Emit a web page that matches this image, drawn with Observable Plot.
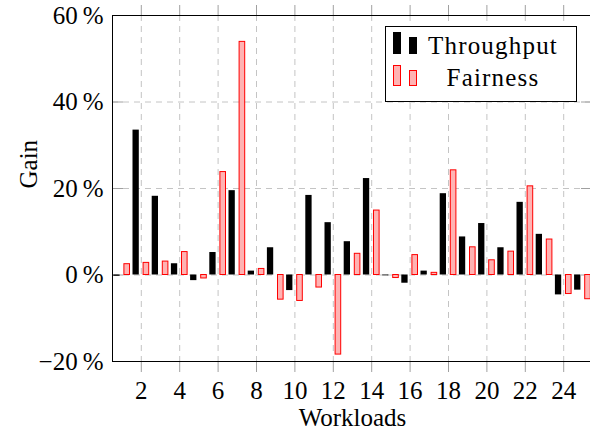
<!DOCTYPE html>
<html>
<head>
<meta charset="utf-8">
<script src="https://cdn.jsdelivr.net/npm/d3@7"></script>
<script src="https://cdn.jsdelivr.net/npm/@observablehq/plot@0.6"></script>
<style>
  html, body { margin: 0; padding: 0; background: #fff; overflow: hidden; }
  #chart { width: 590px; height: 434px; overflow: hidden; }
  #chart svg { max-width: none !important; width: 600px !important; height: 434px !important; }
</style>
</head>
<body>
<div id="chart"></div>
<script>
const workloads = d3.range(1, 26);
const throughput = [-0.3, 33.5, 18.2, 2.6, -1.3, 5.2, 19.5, 0.9, 6.3, -3.6, 18.4, 12.1, 7.7, 22.3, -0.2, -1.9, 0.9, 18.8, 8.8, 11.9, 6.3, 16.8, 9.4, -4.6, -3.5];
const fairness   = [2.5, 2.8, 3.1, 5.3, -0.8, 23.8, 53.9, 1.4, -5.7, -6.0, -2.9, -18.4, 4.9, 14.9, -0.7, 4.6, 0.5, 24.2, 6.4, 3.4, 5.4, 20.5, 8.2, -4.4, -5.6];
const xTicks = [2, 4, 6, 8, 10, 12, 14, 16, 18, 20, 22, 24];
const yTicks = [-20, 0, 20, 40, 60];
const seriesNames = ["Throughput", "Fairness"];

const tData = workloads.map((w, i) => ({w, v: throughput[i]}));
const fData = workloads.map((w, i) => ({w, v: fairness[i]}));

const FONT = "'Liberation Serif', 'DejaVu Serif', serif";
const GRID = "#c4c4c4";
const TICK = "#a0a0a0";
const fmtY = d => (d < 0 ? "\u2212" : "") + Math.abs(d) + "\u2009%";

const chart = Plot.plot({
  width: 600,
  height: 434,
  marginLeft: 112,
  marginRight: 8,
  marginTop: 15,
  marginBottom: 73,
  style: {fontFamily: FONT, fontSize: "25px", color: "black", background: "white", overflow: "visible"},
  x: {domain: [0.5, 25.5], axis: null},
  y: {domain: [-20, 60], axis: null},
  marks: [
    Plot.gridX(xTicks, {stroke: GRID, strokeOpacity: 1, strokeDasharray: "6,5"}),
    Plot.gridY(yTicks, {stroke: GRID, strokeOpacity: 1, strokeDasharray: "6,5"}),
    Plot.tickY(yTicks, {y: d => d, stroke: TICK, insetRight: 469}),
    Plot.tickY(yTicks, {y: d => d, stroke: TICK, insetLeft: 469}),
    Plot.axisX(xTicks, {anchor: "bottom", tickSize: 11, stroke: TICK, tickFormat: () => "", label: null}),
    Plot.axisX(xTicks, {anchor: "top", tickSize: 11, stroke: TICK, tickFormat: () => "", label: null}),
    Plot.axisX(xTicks, {anchor: "bottom", tickSize: 0, tickPadding: 20, fontSize: 25, label: null}),
    Plot.axisY(yTicks, {anchor: "left", tickSize: 0, tickPadding: 9, tickFormat: fmtY, fontSize: 25, label: null}),
    Plot.rectY(tData, {x1: "w", x2: "w", y1: 0, y2: "v", insetLeft: -8.3, insetRight: 2.0, fill: "black"}),
    Plot.rectY(fData, {x1: "w", x2: "w", y1: 0, y2: "v", insetLeft: 2.3, insetRight: -7.9, fill: "#ffb3b3", stroke: "#ff0000", strokeWidth: 1}),
    Plot.frame({stroke: "black", strokeWidth: 1}),
    Plot.text(["Gain"], {frameAnchor: "left", text: d => d, rotate: -90, dx: -84, fontSize: 25}),
    Plot.text(["Workloads"], {frameAnchor: "bottom", text: d => d, dy: 64, fontSize: 25})
  ]
});
chart.style.maxWidth = "none";

// Legend (inside plot, top right), like pgfplots
const svg = d3.select(chart);
const lg = svg.append("g").attr("font-family", FONT).attr("font-size", 25);
lg.append("rect").attr("x", 385.5).attr("y", 26.5).attr("width", 191).attr("height", 75)
  .attr("fill", "white").attr("stroke", "black").attr("stroke-width", 1);
// Throughput entry
lg.append("rect").attr("x", 393).attr("y", 32).attr("width", 8).attr("height", 22).attr("fill", "black");
lg.append("rect").attr("x", 409).attr("y", 37).attr("width", 8).attr("height", 17).attr("fill", "black");
lg.append("text").attr("x", 493).attr("y", 54).attr("text-anchor", "middle")
  .attr("letter-spacing", 1.2).text(seriesNames[0]);
// Fairness entry
lg.append("rect").attr("x", 393.5).attr("y", 65.5).attr("width", 7).attr("height", 20)
  .attr("fill", "#ffb3b3").attr("stroke", "#ff0000");
lg.append("rect").attr("x", 409.5).attr("y", 70.5).attr("width", 7).attr("height", 15)
  .attr("fill", "#ffb3b3").attr("stroke", "#ff0000");
lg.append("text").attr("x", 493).attr("y", 86).attr("text-anchor", "middle")
  .attr("letter-spacing", 1.2).text(seriesNames[1]);

document.getElementById("chart").appendChild(chart);
</script>
</body>
</html>
